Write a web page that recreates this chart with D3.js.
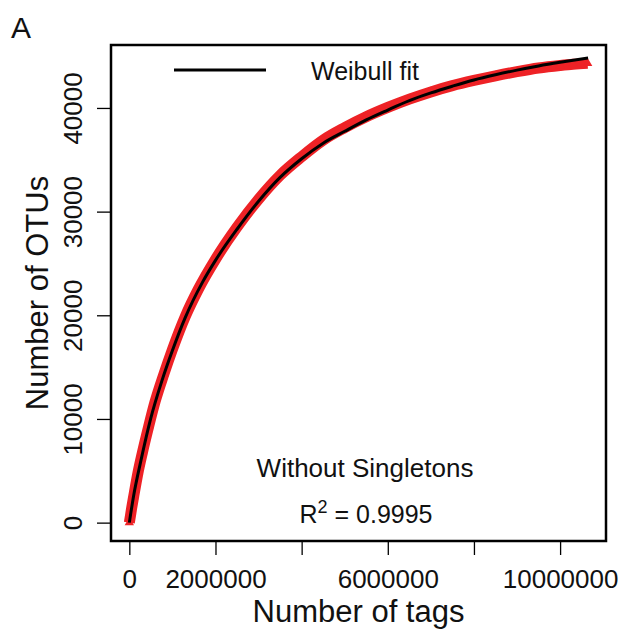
<!DOCTYPE html>
<html>
<head>
<meta charset="utf-8">
<script src="https://cdn.jsdelivr.net/npm/d3@7"></script>
<style>
  html, body { margin: 0; padding: 0; background: #fff; }
  svg text { font-family: "Liberation Sans", Arial, Helvetica, sans-serif; fill: #111; }
</style>
</head>
<body>
<div id="chart"></div>
<script>
// Rarefaction curve (without singletons) + Weibull fit

// -observed rarefaction points-
const tagsObserved = [0, 20000, 50000, 100000, 200000, 300000, 450000, 600000, 800000, 1000000,
  1300000, 1600000, 2000000, 2500000, 3000000, 3500000, 4000000, 4500000, 5000000, 5500000,
  6000000, 6500000, 7000000, 7500000, 8000000, 8500000, 9000000, 9500000, 10000000, 10300000, 10640000];
const otusObserved = [0, 500, 1300, 2500, 4800, 6700, 9300, 11700, 14300, 16700,
  19900, 22500, 25400, 28500, 31200, 33500, 35300, 36900, 38100, 39150,
  40050, 40850, 41550, 42150, 42650, 43100, 43500, 43850, 44100, 44220, 44300];

// -Weibull fit line-
const tagsFit = [0, 100000, 270000, 500000, 750000, 1000000, 1300000, 1700000, 2000000, 2500000,
  3000000, 3500000, 4000000, 4500000, 5000000, 5500000, 6000000, 6500000, 7000000, 7500000,
  8000000, 8500000, 9000000, 9500000, 10000000, 10650000];
const otusFit = [0, 2600, 6000, 10100, 13600, 16600, 19800, 23200, 25300, 28300,
  31000, 33300, 35100, 36600, 37750, 38850, 39800, 40700, 41450, 42100,
  42700, 43200, 43650, 44050, 44400, 44810];

// -axis ticks (R drops the labels that would overlap)-
const xTicks = [0, 2000000, 4000000, 6000000, 8000000, 10000000];
const xTickLabels = ["0", "2000000", "", "6000000", "", "10000000"];
const yTicks = [0, 10000, 20000, 30000, 40000];
const yTickLabels = ["0", "10000", "20000", "30000", "40000"];

const legendLabel = "Weibull fit";
const subsetLabel = "Without Singletons";
const rSquared = "0.9995";

// ----- Build -----
const W = 628, H = 640;
const box = { left: 111, right: 606, top: 45, bottom: 541 };
const red = "#ee2226";

// R style axis range: data extent padded by 4% each side
function rRange(ext) {
  const r = ext[1] - ext[0];
  return [ext[0] - 0.04 * r, ext[1] + 0.04 * r];
}

const x = d3.scaleLinear()
  .domain(rRange(d3.extent(tagsObserved)))
  .range([box.left, box.right]);

const y = d3.scaleLinear()
  .domain(rRange(d3.extent(otusObserved)))
  .range([box.bottom, box.top]);

const svg = d3.select("#chart").append("svg")
  .attr("width", W)
  .attr("height", H);

svg.append("defs").append("clipPath")
  .attr("id", "plotclip")
  .append("rect")
  .attr("x", box.left).attr("y", box.top)
  .attr("width", box.right - box.left)
  .attr("height", box.bottom - box.top);

const plot = svg.append("g").attr("clip-path", "url(#plotclip)");

const obs = tagsObserved.map((t, i) => ({ t: t, n: otusObserved[i] }));
const fit = tagsFit.map((t, i) => ({ t: t, n: otusFit[i] }));

// dense triangles in the original merge into a band
plot.append("path")
  .datum(obs)
  .attr("fill", "none")
  .attr("stroke", red)
  .attr("stroke-width", 11)
  .attr("stroke-linejoin", "round")
  .attr("d", d3.line().x(d => x(d.t)).y(d => y(d.n)).curve(d3.curveMonotoneX));

plot.selectAll(".pt")
  .data(obs)
  .enter()
  .append("path")
  .attr("class", "pt")
  .attr("transform", d => `translate(${x(d.t)},${y(d.n)})`)
  .attr("d", d3.symbol(d3.symbolTriangle, 38))
  .attr("fill", red);

plot.append("path")
  .datum(fit)
  .attr("fill", "none")
  .attr("stroke", "#000")
  .attr("stroke-width", 3)
  .attr("d", d3.line().x(d => x(d.t)).y(d => y(d.n)).curve(d3.curveMonotoneX));

// box
svg.append("rect")
  .attr("x", box.left).attr("y", box.top)
  .attr("width", box.right - box.left)
  .attr("height", box.bottom - box.top)
  .attr("fill", "none")
  .attr("stroke", "#000")
  .attr("stroke-width", 2.5);

// x axis
const gx = svg.append("g")
  .attr("transform", `translate(0,${box.bottom})`)
  .call(d3.axisBottom(x).tickValues(xTicks).tickFormat((d, i) => xTickLabels[i]).tickSize(14));
gx.select(".domain").remove();
gx.selectAll("line").attr("stroke", "#000").attr("stroke-width", 1.3);
gx.selectAll("text")
  .attr("y", 47).attr("dy", null)
  .style("font-size", "26px")
  .style("font-family", "\"Liberation Sans\", Arial, sans-serif")
  .attr("fill", "#111");

// y axis
const gy = svg.append("g")
  .attr("transform", `translate(${box.left},0)`)
  .call(d3.axisLeft(y).tickValues(yTicks).tickFormat((d, i) => yTickLabels[i]).tickSize(14));
gy.select(".domain").remove();
gy.selectAll("line").attr("stroke", "#000").attr("stroke-width", 1.3);
gy.selectAll("text")
  .attr("x", 0).attr("y", 0).attr("dy", null)
  .attr("text-anchor", "middle")
  .attr("transform", "translate(-29,0) rotate(-90)")
  .style("font-size", "26px")
  .style("font-family", "\"Liberation Sans\", Arial, sans-serif")
  .attr("fill", "#111");

// axis titles
svg.append("text")
  .attr("x", (box.left + box.right) / 2)
  .attr("y", 622)
  .attr("text-anchor", "middle")
  .style("font-size", "31px")
  .text("Number of tags");

svg.append("text")
  .attr("transform", `translate(48,${(box.top + box.bottom) / 2}) rotate(-90)`)
  .attr("text-anchor", "middle")
  .style("font-size", "31px")
  .text("Number of OTUs");

// panel letter
svg.append("text")
  .attr("x", 11).attr("y", 38)
  .style("font-size", "30px")
  .text("A");

// legend
svg.append("line")
  .attr("x1", 174).attr("x2", 266)
  .attr("y1", 70).attr("y2", 70)
  .attr("stroke", "#000")
  .attr("stroke-width", 3);

svg.append("text")
  .attr("x", 311).attr("y", 80)
  .style("font-size", "25px")
  .text(legendLabel);

// annotations
svg.append("text")
  .attr("x", 365).attr("y", 477)
  .attr("text-anchor", "middle")
  .style("font-size", "26px")
  .text(subsetLabel);

const r2 = svg.append("text")
  .attr("x", 366).attr("y", 523)
  .attr("text-anchor", "middle")
  .style("font-size", "25px");
r2.append("tspan").text("R");
r2.append("tspan").attr("dy", -10).style("font-size", "18px").text("2");
r2.append("tspan").attr("dy", 10).text(" = " + rSquared);
</script>
</body>
</html>
